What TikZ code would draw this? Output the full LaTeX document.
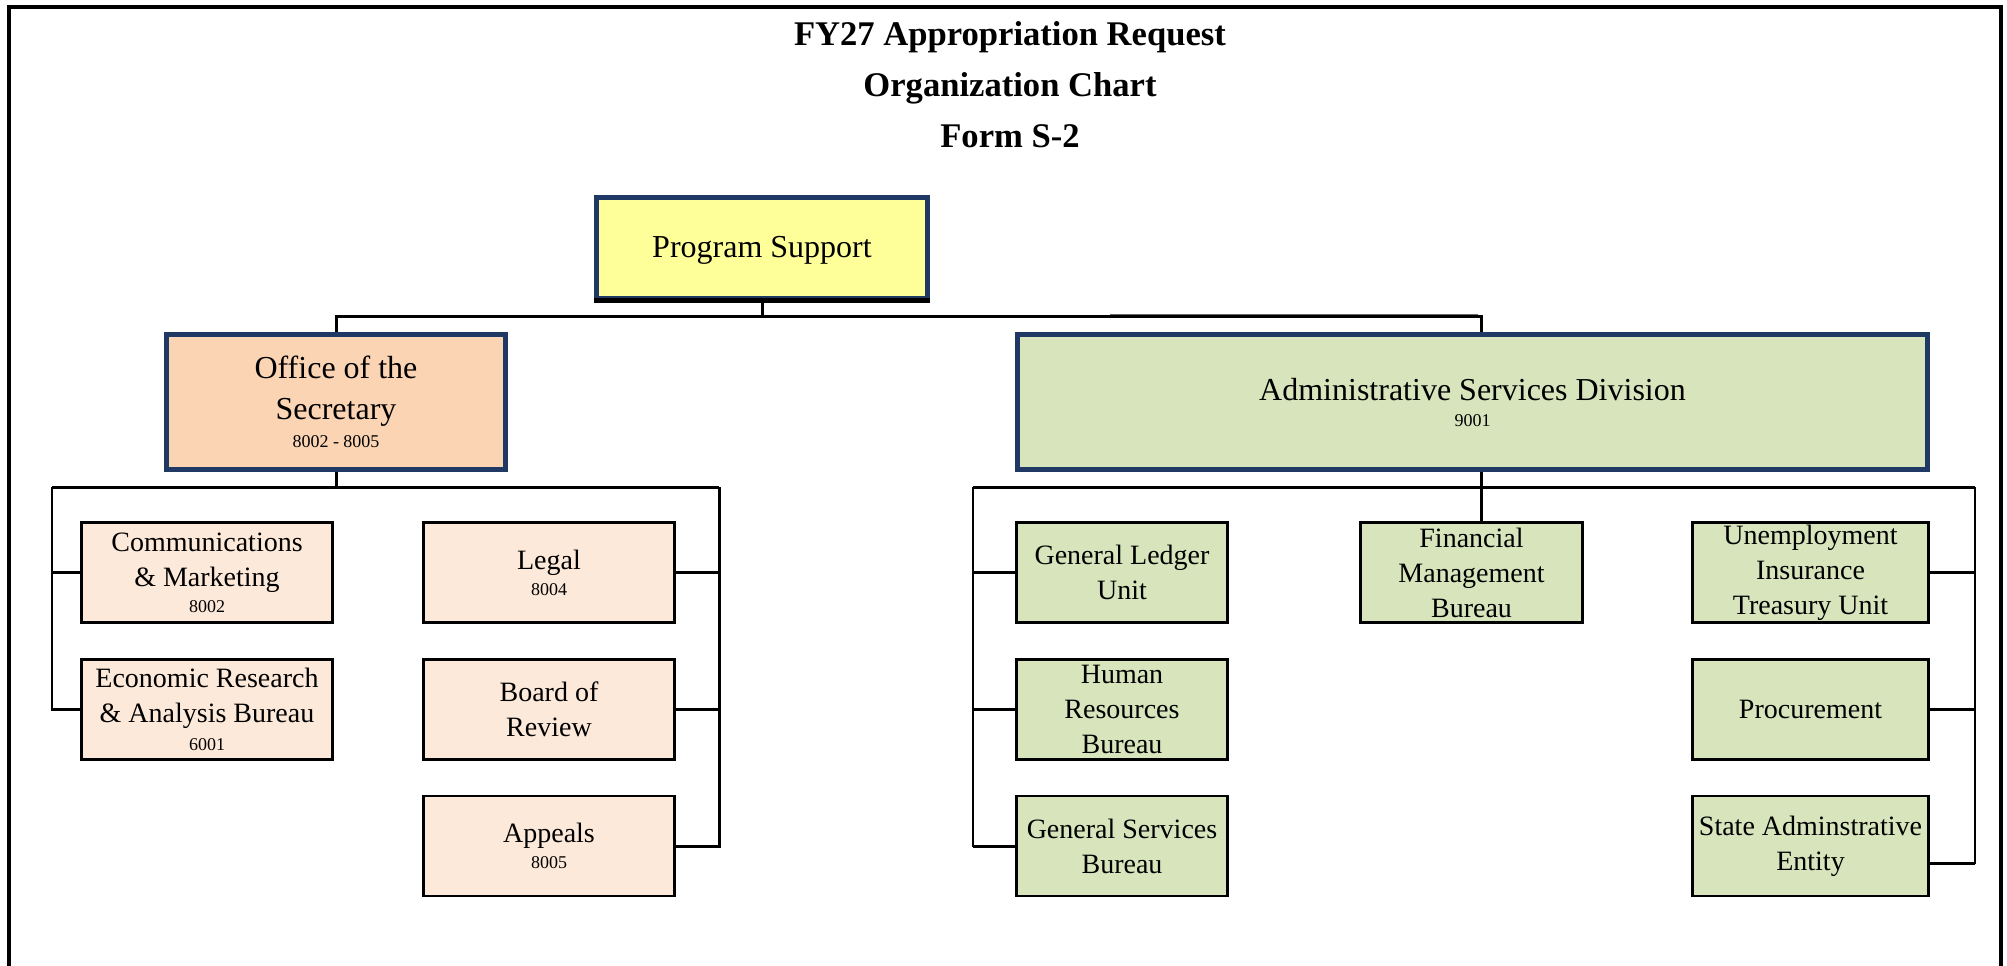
\documentclass[tikz,border=0pt]{standalone}
\usepackage{fontspec}
\setmainfont{Liberation Serif}
\usetikzlibrary{calc}
\definecolor{navy}{HTML}{1F3864}
\definecolor{psyellow}{HTML}{FFFF99}
\definecolor{offpeach}{HTML}{FBD4B4}
\definecolor{lightpeach}{HTML}{FDE9D9}
\definecolor{adgreen}{HTML}{D8E4BC}
\newcommand\unitcode[1]{{\fontsize{9}{11}\selectfont #1}}
\begin{document}
\begin{tikzpicture}[x=0.5pt,y=-0.5pt,
  headbox/.style={draw=navy, line width=2.3pt, inner sep=2pt, align=center,
    font=\fontsize{16}{20.5}\selectfont, minimum height=67.5pt},
  unitbox/.style={draw=black, line width=1.4pt, inner sep=1pt, align=center,
    font=\fontsize{14}{17.5}\selectfont, minimum height=50pt},
  offunit/.style={unitbox, fill=lightpeach, minimum width=125.5pt},
  adunit/.style={unitbox, fill=adgreen},
  conn/.style={draw=black, line width=1.5pt},
  thinconn/.style={draw=black, line width=1pt},
  titletext/.style={font=\fontsize{17.3}{20}\selectfont\bfseries, anchor=base}
]
\useasboundingbox (0,0) rectangle (2007,965);

% page frame
\draw[line width=2.3pt] (9,970) -- (9,7) -- (2001,7) -- (2001,970);

% heading
\node[titletext] (t1) at (1010,45) {FY27 Appropriation Request};
\node[titletext] (t2) at (1010,96) {Organization Chart};
\node[titletext] (t3) at (1010,147) {Form S-2};

% top level
\node[headbox, fill=psyellow, minimum width=165.6pt, minimum height=50.6pt]
  (ps) at (762,248) {\raisebox{-1.2pt}[\height][\depth]{Program Support}};
\draw[black, line width=2.5pt] (ps.south west) -- (ps.south east);

% second level
\node[headbox, fill=offpeach, minimum width=169.5pt] (off) at (336,402)
  {Office of the\\ Secretary\\[-6.4pt] \unitcode{8002 - 8005}};
\node[headbox, fill=adgreen, minimum width=455pt] (asd) at (1472.5,402)
  {Administrative Services Division\\[-7.5pt] \unitcode{9001}};

% units under the Office of the Secretary
\node[offunit] (comm) at (207,572.5)
  {Communications\\ \& Marketing\\[-4.4pt] \unitcode{8002}};
\node[offunit] (econ) at (207,709.5)
  {Economic Research\\ \& Analysis Bureau\\[-3.8pt] \unitcode{6001}};
\node[offunit] (legal) at (549,572.5)
  {Legal\\[-4.5pt] \unitcode{8004}};
\node[offunit] (board) at (549,709.5) {Board of\\ Review};
\node[offunit] (appeals) at (549,846)
  {Appeals\\[-4.5pt] \unitcode{8005}};

% units under the Administrative Services Division
\node[adunit, minimum width=105.5pt] (gl) at (1122,572.5) {General Ledger\\ Unit};
\node[adunit, minimum width=105.5pt] (hr) at (1122,709.5) {Human\\ Resources\\ Bureau};
\node[adunit, minimum width=105.5pt] (gs) at (1122,846) {General Services\\ Bureau};
\node[adunit, minimum width=111pt] (fin) at (1471.5,572.5) {Financial\\ Management\\ Bureau};
\node[adunit, minimum width=118pt] (ui) at (1810.5,572.5) {Unemployment\\ Insurance\\ Treasury Unit};
\node[adunit, minimum width=118pt] (proc) at (1810.5,709.5) {Procurement};
\node[adunit, minimum width=118pt] (sae) at (1810.5,846) {State Adminstrative\\ Entity};

% bus coordinates
\coordinate (topbus) at (0,316);
\coordinate (asdin) at ([xshift=4.5pt]asd.north);
\coordinate (asdout) at ([xshift=4.5pt]asd.south);
\coordinate (oL) at (52,487);
\coordinate (oR) at (719,487);
\coordinate (aL) at (973,487);
\coordinate (aR) at (1975,487);
\coordinate (saetap) at ([yshift=-8.5pt]sae.east);

% top connectors
\draw[conn] (ps.south) -- (ps.south |- topbus);
\draw[conn] (off.north) |- (topbus -| asdin) -- (asdin);
\draw[black!60, line width=0.6pt] (1110,314.2) -- (1478,314.2);

% Office of the Secretary connectors
\draw[conn] (off.south) -- (off.south |- oL);
\draw[conn] (oL) -- (oR);
\draw[thinconn] (oL) |- (econ.west);
\draw[conn] (comm.west) -- (comm.west -| oL);
\draw[conn] (econ.west) -- (econ.west -| oL);
\draw[conn] (oR) |- (appeals.east);
\draw[conn] (legal.east) -- (legal.east -| oR);
\draw[conn] (board.east) -- (board.east -| oR);

% Administrative Services Division connectors
\draw[conn] (asdout) -- (asdout |- fin.north);
\draw[conn] (aL) -- (aR);
\draw[thinconn] (aL) |- (gs.west);
\draw[conn] (gl.west) -- (gl.west -| aL);
\draw[conn] (hr.west) -- (hr.west -| aL);
\draw[conn] (gs.west) -- (gs.west -| aL);
\draw[thinconn] (aR) |- (saetap);
\draw[conn] (saetap) -- (saetap -| aR);
\draw[conn] (ui.east) -- (ui.east -| aR);
\draw[conn] (proc.east) -- (proc.east -| aR);
\end{tikzpicture}
\end{document}
